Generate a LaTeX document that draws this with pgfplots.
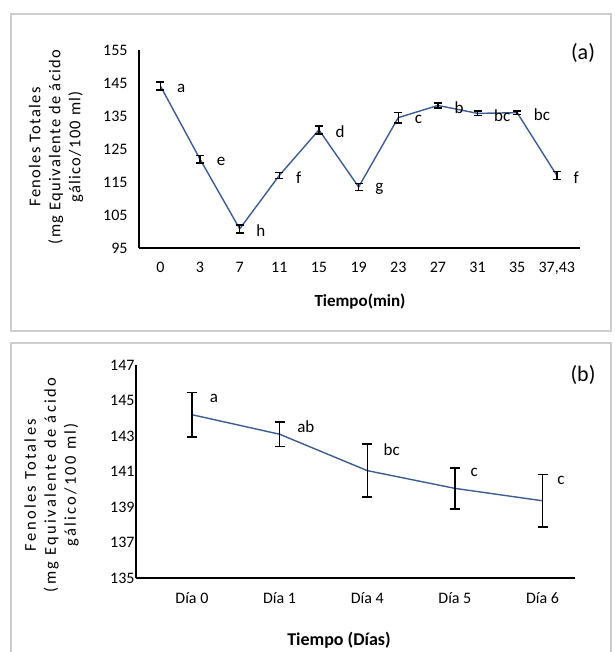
\documentclass[border=0pt]{standalone}
\usepackage{fontspec}
\setmainfont{Carlito}
\usepackage{pgfplots}
\usepackage{pgfplotstable}
\pgfplotsset{compat=1.18}
\definecolor{serie}{RGB}{62,92,145}
\definecolor{marco}{RGB}{205,205,205}

% panel (a): tiempo en minutos
\pgfplotstableread{
x y e lab
0 144.1 1.2 a
1 121.9 1.1 e
2 100.8 1.2 h
3 117.0 0.9 f
4 130.8 1.2 d
5 113.5 1.1 g
6 134.5 1.6 c
7 138.2 0.8 b
8 135.8 0.7 bc
9 136.0 0.5 bc
10 117.0 1.2 f
}\datosA

% panel (b): tiempo en dias
\pgfplotstableread{
x y e
0 144.2 1.25
1 143.1 0.70
2 141.05 1.50
3 140.05 1.15
4 139.35 1.47
}\datosB

% letras de significancia del panel (b)
\pgfplotstableread{
x y lab
0.25 145.1 a
1.30 143.5 ab
2.28 142.24 bc
3.22 140.94 c
4.21 140.47 c
}\letrasB

\pgfplotsset{
  panel/.style={
    scale only axis, anchor=south west, clip=false,
    axis lines=left,
    axis line style={-, line width=1.6pt, black},
    major tick length=0pt,
    tick label style={font=\fontsize{16}{18}\selectfont},
    yticklabel style={/pgf/number format/assume math mode=true},
  },
}

\begin{document}
\begin{tikzpicture}[x=1pt, y=1pt]
\useasboundingbox (0,0) rectangle (614,-652);
\draw[marco, line width=1.5pt] (11,-14) rectangle (611,-331);
\draw[marco, line width=1.5pt] (11,-343) rectangle (611,-660);

\begin{axis}[panel,
    at={(139pt,-248pt)}, width=441pt, height=198pt,
    xmin=-0.54, xmax=10.585, ymin=95, ymax=155,
    xtick={0,...,10},
    xticklabels={0,3,7,11,15,19,23,27,31,35,{37,43}},
    ytick={95,105,...,155},
    xticklabel style={yshift=-11pt},
    yticklabel style={xshift=-8pt},
    error bars/error bar style={line width=1.5pt, black},
    error bars/error mark options={rotate=90, mark size=4pt, line width=1.5pt, black},
]
\addplot[serie, line width=1.4pt, mark=none,
    point meta=explicit symbolic,
    nodes near coords,
    nodes near coords style={anchor=west, inner sep=0pt, xshift=16pt, yshift=-2pt,
        font=\fontsize{17}{18}\selectfont, black},
    error bars/.cd, y dir=both, y explicit]
    table[x=x, y=y, y error=e, meta=lab] {\datosA};
\end{axis}
\node[font=\fontsize{16.5}{20}\selectfont\addfontfeature{LetterSpace=8}, align=center, rotate=90]
    at (56,-147) {Fenoles Totales\\(mg Equivalente de ácido\\gálico/100 ml)};
\node[font=\fontsize{17}{20}\selectfont\bfseries] at (360,-302) {Tiempo(min)};
\node[font=\fontsize{22}{24}\selectfont] at (583,-53) {(a)};

\begin{axis}[panel,
    at={(136pt,-578pt)}, width=439pt, height=213pt,
    xmin=-0.638, xmax=4.37, ymin=135, ymax=147,
    xtick={0,...,4},
    xticklabels={Día 0,Día 1,Día 4,Día 5,Día 6},
    ytick={135,137,...,147},
    xticklabel style={yshift=-11pt},
    yticklabel style={xshift=2pt},
    error bars/error bar style={line width=1.5pt, black},
    error bars/error mark options={rotate=90, mark size=5pt, line width=1.5pt, black},
]
\addplot[serie, line width=1.4pt, mark=none,
    error bars/.cd, y dir=both, y explicit]
    table[x=x, y=y, y error=e] {\datosB};
\addplot[draw=none, mark=none,
    point meta=explicit symbolic,
    nodes near coords,
    nodes near coords style={anchor=center, inner sep=0pt,
        font=\fontsize{17}{18}\selectfont, black}]
    table[x=x, y=y, meta=lab] {\letrasB};
\end{axis}
\node[font=\fontsize{16.5}{20}\selectfont\addfontfeature{LetterSpace=14}, align=center, rotate=90]
    at (51.5,-485) {Fenoles Totales\\(mg Equivalente de ácido\\gálico/100 ml)};
\node[font=\fontsize{18}{20}\selectfont\bfseries] at (339,-640) {Tiempo (Días)};
\node[font=\fontsize{22}{24}\selectfont] at (583,-375) {(b)};
\end{tikzpicture}
\end{document}
